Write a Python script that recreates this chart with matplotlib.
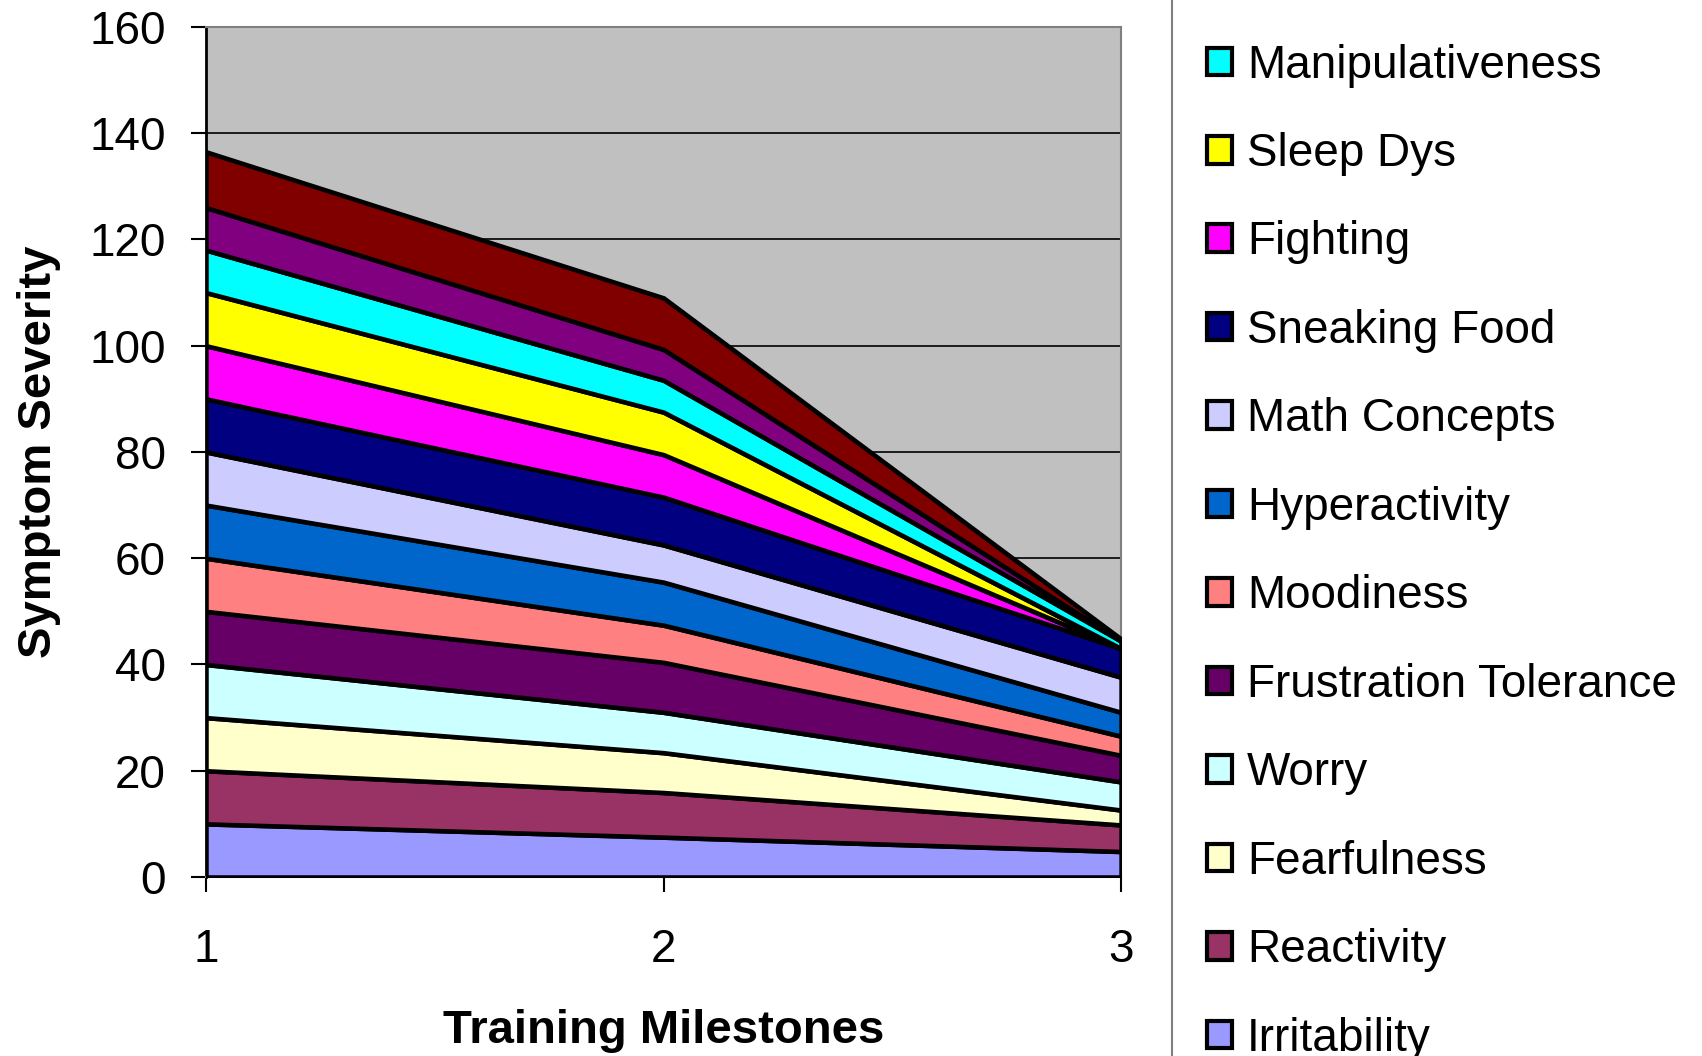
import matplotlib as mpl
mpl.use("Agg")
import matplotlib.pyplot as plt
from matplotlib.patches import Patch
from matplotlib.lines import Line2D

plt.rcParams['font.family'] = ['Liberation Sans', 'DejaVu Sans']

milestones = [1, 2, 3]

# bottom to top of the stack
labels = ["Irritability", "Reactivity", "Fearfulness", "Worry",
          "Frustration Tolerance", "Moodiness", "Hyperactivity",
          "Math Concepts", "Sneaking Food", "Fighting", "Sleep Dys",
          "Manipulativeness", "Series13", "Series14"]
colors = ["#9999FF", "#993366", "#FFFFCC", "#CCFFFF", "#660066", "#FF8080",
          "#0066CC", "#CCCCFF", "#000080", "#FF00FF", "#FFFF00", "#00FFFF",
          "#800080", "#800000"]

irritability = [10, 7.5, 4.8]
reactivity = [10, 8.4, 5.0]
fearfulness = [10, 7.5, 2.8]
worry = [10, 7.6, 5.3]
frustration = [10, 9.4, 5.0]
moodiness = [10, 7.0, 3.6]
hyperactivity = [10, 8.1, 4.5]
math_concepts = [10, 7.0, 6.6]
sneaking_food = [10, 9.0, 5.4]
fighting = [10, 8.0, 0.0]
sleep_dys = [10, 8.0, 0.0]
manipulativeness = [8, 6.0, 1.4]
series13 = [8, 5.8, 0.0]
series14 = [10.5, 9.7, 0.4]

values = [irritability, reactivity, fearfulness, worry, frustration, moodiness,
          hyperactivity, math_concepts, sneaking_food, fighting, sleep_dys,
          manipulativeness, series13, series14]

fig = plt.figure(figsize=(17.02, 10.56), dpi=100)
ax = fig.add_axes([0.121, 0.1695, 0.5377, 0.805])
ax.set_facecolor("#C0C0C0")

ax.stackplot(milestones, values, colors=colors, edgecolor="black",
             linewidth=3.3, zorder=3)

ax.set_xlim(1, 3)
ax.set_ylim(0, 160)
ax.set_xticks(milestones)
ax.set_yticks(range(0, 161, 20))
ax.yaxis.grid(True, color="black", linewidth=1.2, zorder=1)
ax.set_axisbelow(True)

ax.tick_params(axis="both", direction="out", length=11, width=1.5,
               labelsize=33, color="black")
ax.tick_params(axis="x", pad=26)
ax.tick_params(axis="y", pad=18)
for side in ["top", "right"]:
    ax.spines[side].set_color("#808080")
    ax.spines[side].set_linewidth(1.5)
ax.spines["left"].set_color("black")
ax.spines["left"].set_linewidth(2)
ax.spines["bottom"].set_color("#808080")
ax.spines["bottom"].set_linewidth(1.5)

ax.set_xlabel("Training Milestones", fontsize=34, fontweight="bold", labelpad=26)
ax.set_ylabel("Symptom Severity", fontsize=34, fontweight="bold", labelpad=20)

handles = [Patch(facecolor=c, edgecolor="black", linewidth=3) for c in colors]
fig.legend(handles[::-1], labels[::-1], loc="center left",
           bbox_to_anchor=(0.709, 0.561), frameon=False, fontsize=33,
           borderpad=0, borderaxespad=0, handlelength=0.55, handleheight=0.55,
           handletextpad=0.33, labelspacing=0.97)

fig.add_artist(Line2D([0.6886, 0.6886], [0, 1], color="#808080", linewidth=1.5,
                      transform=fig.transFigure))

fig.savefig("out.png", dpi=100)
